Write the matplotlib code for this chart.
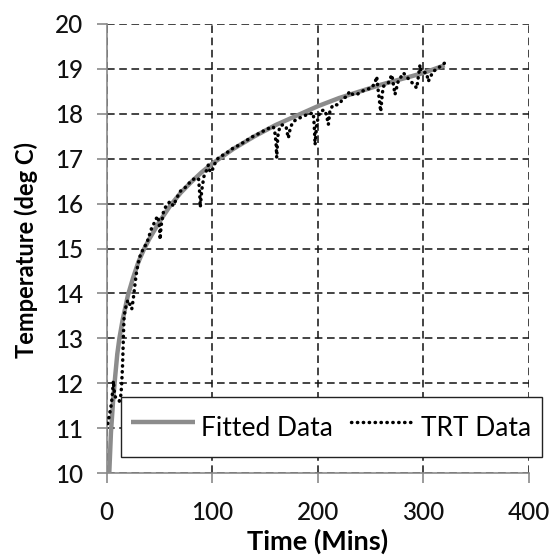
import matplotlib
matplotlib.use('Agg')
import matplotlib.pyplot as plt

plt.rcParams['font.family'] = ['Lato', 'DejaVu Sans']

# --- Fitted curve ---
fit_time = [2.4, 4, 6, 8, 10, 12, 15, 20, 25, 30, 35, 40, 50, 60, 70, 80, 90,
            100, 120, 140, 160, 180, 200, 220, 240, 260, 280, 300, 320]
fit_temp = [10.0, 10.9, 11.6, 12.15, 12.65, 13.0, 13.4, 13.95, 14.35, 14.7,
            14.97, 15.2, 15.6, 15.95, 16.24, 16.48, 16.7, 16.89, 17.22, 17.5,
            17.75, 17.96, 18.17, 18.35, 18.5, 18.65, 18.78, 18.91, 19.08]

trt_time = [1, 3, 4.5, 5.5, 6.3, 7, 8, 10, 12, 13.5, 14.2, 15, 15.5, 16, 16.5,
            17.3, 18.3, 20, 22, 23.7, 25, 26, 27, 28.4, 31, 34.7, 38, 40, 42.6,
            45.7, 48, 49.5, 50.2, 50.5, 51.5, 53.6, 56, 60, 63, 66.3, 69.4, 74,
            78.2, 83.6, 87, 88, 88.4, 88.6, 90, 92, 94.7, 96.2, 98, 100, 102.6,
            105.7, 110, 113.6, 120, 126, 132.6, 138.8, 145, 151.5, 157.8, 159.5,
            160.5, 161, 162, 164, 167, 170, 171, 172, 174, 176.7, 183, 189.4,
            195.6, 196.5, 197, 197.3, 199, 202, 206, 208, 209, 209.9, 211.5,
            214.6, 218, 221, 224, 227.3, 230, 233, 237, 241.5, 246, 251, 254,
            255.7, 257, 258, 258.7, 259.5, 261, 262, 266.7, 270, 272, 273, 276,
            281, 285, 288, 291, 293.6, 296.7, 298, 303, 304.5, 309, 314, 320]
trt_temp = [11.1, 11.35, 11.55, 11.8, 12.05, 11.85, 11.7, 11.65, 11.6, 11.75,
            12.0, 12.4, 12.8, 13.2, 13.5, 13.6, 13.72, 13.85, 13.75, 13.65,
            13.85, 14.05, 14.25, 14.5, 14.8, 15.0, 15.12, 15.27, 15.46, 15.6,
            15.72, 15.6, 15.4, 15.2, 15.5, 15.8, 15.94, 16.05, 15.95, 16.12,
            16.27, 16.35, 16.46, 16.57, 16.55, 16.25, 16.05, 15.92, 16.3, 16.6,
            16.75, 16.86, 16.7, 16.75, 16.9, 17.02, 17.08, 17.13, 17.24, 17.31,
            17.41, 17.5, 17.57, 17.66, 17.71, 17.55, 17.3, 17.02, 17.5, 17.72,
            17.76, 17.7, 17.57, 17.46, 17.7, 17.83, 17.91, 17.98, 18.02, 17.75,
            17.5, 17.31, 17.8, 18.05, 18.09, 17.98, 17.87, 17.76, 18.09, 18.2,
            18.2, 18.24, 18.35, 18.38, 18.5, 18.43, 18.43, 18.5, 18.54, 18.58,
            18.69, 18.83, 18.54, 18.35, 18.2, 18.05, 18.45, 18.61, 18.69, 18.87,
            18.58, 18.43, 18.72, 18.91, 18.8, 18.72, 18.65, 18.57, 19.09, 18.94,
            18.91, 18.72, 18.94, 19.02, 19.13]

fig = plt.figure(figsize=(5.55, 5.58), dpi=100)
ax = fig.add_axes([0.1923, 0.1523, 0.761, 0.8047])

ax.plot(fit_time, fit_temp, color='#8c8c8c', linewidth=3.2, label='Fitted Data',
        solid_capstyle='butt', zorder=3)
ax.plot(trt_time, trt_temp, color='black', linewidth=2.5, dashes=(0.1, 1.6),
        dash_capstyle='round', label='TRT Data', zorder=4)

ax.set_xlim(0, 400)
ax.set_ylim(10, 20)
ax.set_xticks([0, 100, 200, 300, 400])
ax.set_yticks(range(10, 21))

ax.grid(True, color='#111111', linestyle=(0, (5, 3)), linewidth=1.1)
ax.set_axisbelow(True)

for side in ['top', 'right']:
    ax.spines[side].set_visible(False)
for side in ['left', 'bottom']:
    ax.spines[side].set_color('#8a8a8a')
    ax.spines[side].set_linewidth(1.2)

ax.tick_params(axis='both', direction='out', length=7, width=1.2,
               color='#8a8a8a', labelsize=17.5, labelcolor='#111111')
ax.tick_params(axis='y', pad=10)
ax.tick_params(axis='x', pad=13)
for lab in ax.get_xticklabels() + ax.get_yticklabels():
    lab.set_fontweight('medium')

ax.set_xlabel('Time (Mins)', fontsize=19.5, fontweight='bold')
ax.set_ylabel('Temperature (deg C)', fontsize=17, fontweight='bold')
ax.xaxis.set_label_coords(0.5, -0.125)
ax.yaxis.set_label_coords(-0.163, 0.497)

leg = ax.legend(loc='lower left', bbox_to_anchor=(0.033, 0.0363, 0.997, 0.138),
                mode='expand', ncol=2, borderaxespad=0, fontsize=19,
                frameon=True, fancybox=False, handlelength=2.4,
                handleheight=1.85, handletextpad=0.25, borderpad=0.4)
leg.get_frame().set_edgecolor('#222222')
leg.get_frame().set_linewidth(1.0)
leg.get_frame().set_alpha(1)

fig.savefig('out.png', dpi=100)
